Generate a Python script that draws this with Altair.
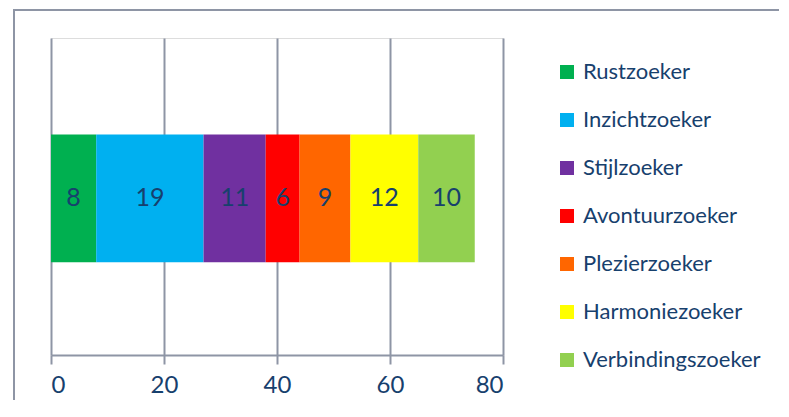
import altair as alt
import pandas as pd

categories = ["Rustzoeker", "Inzichtzoeker", "Stijlzoeker", "Avontuurzoeker",
              "Plezierzoeker", "Harmoniezoeker", "Verbindingszoeker"]
values = [8, 19, 11, 6, 9, 12, 10]
colors = ["#00B050", "#00B0F0", "#7030A0", "#FF0000", "#FF6600", "#FFFF00", "#92D050"]
tick_values = [0, 20, 40, 60, 80]

df = pd.DataFrame({
    "cat": categories,
    "value": values,
    "idx": list(range(len(categories))),
    "grp": ["A"] * len(categories),
})

TEXT = "#17406D"
GRID = "#8E95A5"
FONT = "Lato"

base = alt.Chart(df).transform_window(
    cum="sum(value)", sort=[alt.SortField("idx")], frame=[None, 0]
).transform_calculate(
    start="datum.cum - datum.value",
    mid="datum.cum - datum.value / 2",
)

yenc = alt.Y("grp:N", axis=None,
             scale=alt.Scale(paddingInner=0, paddingOuter=0.74, align=0.51))

bars = base.mark_bar().encode(
    x=alt.X("start:Q", scale=alt.Scale(domain=[0, 80]),
            axis=alt.Axis(values=tick_values, title=None, grid=True,
                          gridColor=GRID, gridWidth=2, domainColor=GRID,
                          domainWidth=2, tickColor=GRID, tickWidth=2,
                          tickSize=9, labelFontSize=24, labelColor=TEXT,
                          labelFont=FONT, labelPadding=9)),
    x2="cum:Q",
    y=yenc,
    color=alt.Color("cat:N",
                    scale=alt.Scale(domain=categories, range=colors),
                    legend=alt.Legend(title=None, orient="none",
                                      legendX=505, legendY=23,
                                      symbolType="square", symbolSize=196,
                                      symbolStrokeWidth=0, labelFontSize=22,
                                      labelFont=FONT, labelColor=TEXT,
                                      labelOffset=5, rowPadding=26,
                                      padding=0, labelLimit=400)),
    order=alt.Order("idx:Q"),
)

labels = base.mark_text(fontSize=25, font=FONT, color=TEXT).encode(
    x=alt.X("mid:Q"),
    y=yenc,
    text=alt.Text("value:Q"),
)

frame = alt.Chart(pd.DataFrame({"f": [0]})).mark_rect(
    fillOpacity=0, stroke=GRID, strokeWidth=2
).encode(
    x=alt.value(-37), x2=alt.value(900), y=alt.value(-28), y2=alt.value(500)
)

chart = alt.layer(frame, bars, labels).properties(
    width=452, height=317,
    autosize=alt.AutoSizeParams(type="none"),
    padding={"left": 43, "top": 30, "right": 276, "bottom": 45},
).configure_view(stroke=None).configure(font=FONT)

chart.save("out.html", embed_options={"renderer": "svg", "actions": False})
